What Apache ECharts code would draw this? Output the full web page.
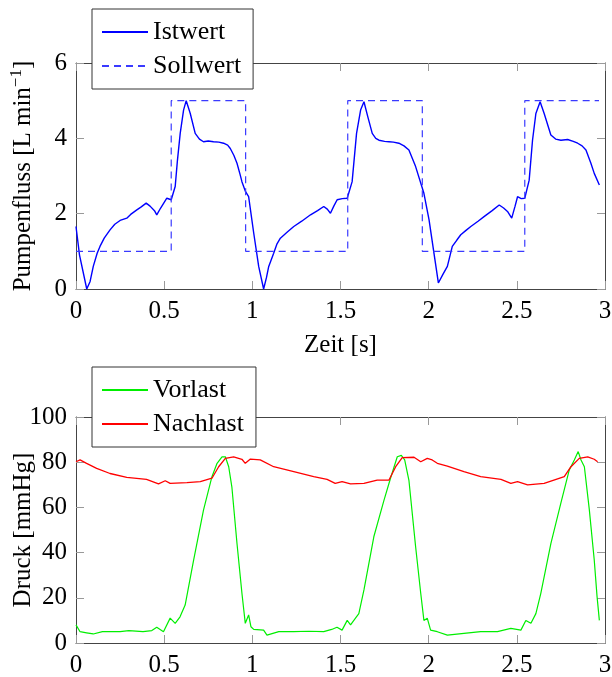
<!DOCTYPE html>
<html>
<head>
<meta charset="utf-8">
<script src="https://cdn.jsdelivr.net/npm/echarts@6/dist/echarts.min.js"></script>
<style>
html,body{margin:0;padding:0;background:#fff;}
#c{width:612px;height:677px;}
</style>
</head>
<body>
<div id="c"></div>
<script>
// ---- Data (time in s) ----
const xTicks = [0, 0.5, 1, 1.5, 2, 2.5, 3];
const flowTicks = [0, 2, 4, 6];
const pressureTicks = [0, 20, 40, 60, 80, 100];

const istTime = [0,0.02,0.061,0.08,0.098,0.12,0.136,0.16,0.193,0.22,0.25,0.288,0.31,0.345,0.37,0.398,0.42,0.445,0.458,0.48,0.515,0.54,0.5625,0.575,0.591,0.61,0.625,0.635,0.648,0.676,0.7,0.723,0.75,0.78,0.81,0.837,0.86,0.875,0.895,0.913,0.93,0.941,0.96,0.979,1.008,1.036,1.064,1.08,1.093,1.121,1.14,1.159,1.2,1.235,1.28,1.33,1.37,1.405,1.425,1.443,1.462,1.481,1.51,1.538,1.566,1.591,1.614,1.633,1.655,1.68,1.7,1.718,1.75,1.775,1.8,1.831,1.86,1.888,1.926,1.973,2.002,2.03,2.055,2.08,2.106,2.134,2.16,2.182,2.21,2.239,2.28,2.314,2.36,2.4,2.425,2.447,2.471,2.49,2.504,2.525,2.545,2.57,2.589,2.608,2.632,2.655,2.693,2.72,2.75,2.788,2.82,2.845,2.87,2.892,2.92,2.939,2.968];
const istValue = [1.66,0.9,0.0,0.2,0.6,0.95,1.13,1.35,1.57,1.72,1.82,1.88,1.98,2.1,2.18,2.28,2.2,2.08,1.97,2.15,2.41,2.37,2.72,3.4,4.13,4.75,5.0,4.85,4.66,4.13,3.98,3.91,3.93,3.91,3.9,3.87,3.82,3.73,3.55,3.34,3.05,2.85,2.6,2.45,1.48,0.6,0.0,0.3,0.6,0.95,1.2,1.35,1.52,1.66,1.8,1.97,2.08,2.19,2.12,2.01,2.2,2.37,2.4,2.41,2.85,4.13,4.75,4.97,4.57,4.13,4.0,3.95,3.92,3.91,3.9,3.87,3.8,3.69,3.25,2.54,1.84,0.95,0.16,0.38,0.6,1.13,1.3,1.44,1.55,1.66,1.8,1.92,2.08,2.23,2.15,2.06,1.88,2.2,2.45,2.4,2.41,2.89,3.95,4.66,4.97,4.66,4.09,3.98,3.95,3.97,3.92,3.87,3.8,3.69,3.34,3.07,2.76];

const sollTime = [0,0.54,0.54,0.962,0.962,1.541,1.541,1.964,1.964,2.545,2.545,2.966];
const sollValue = [1,1,5,5,1,1,5,5,1,1,5,5];

const vorTime = [0,0.023,0.06,0.098,0.15,0.19,0.25,0.3,0.38,0.43,0.458,0.496,0.534,0.5625,0.59,0.619,0.667,0.723,0.771,0.8,0.828,0.847,0.866,0.884,0.913,0.941,0.96,0.979,0.992,1.008,1.064,1.083,1.15,1.235,1.32,1.405,1.45,1.48,1.509,1.538,1.557,1.585,1.604,1.633,1.689,1.746,1.784,1.822,1.845,1.864,1.888,1.926,1.955,1.973,1.992,2.011,2.049,2.106,2.2,2.295,2.39,2.466,2.523,2.551,2.58,2.608,2.636,2.693,2.75,2.797,2.826,2.848,2.864,2.883,2.911,2.939,2.955,2.968];
const vorValue = [8,5,4.5,4,5,5,5,5.5,5,5.5,7,5,11,8.7,11.6,16.8,36.7,58.8,73.6,79.5,82.4,82.4,78,69,44,22,8.7,12.4,7.2,6,5.7,3.5,5,5,5.2,5,6,7,5.7,10,8,11,13,23.5,47,63,73,82.4,83,81,72,42.6,22,10,11,5.7,5,3.5,4.3,5,5,6.5,5.7,10,8.7,13,22,44,62,76.5,81,84.7,81,78,59,36.7,20.5,10];

const nachTime = [0,0.023,0.06,0.117,0.193,0.288,0.4,0.468,0.506,0.534,0.629,0.705,0.771,0.809,0.847,0.894,0.941,0.96,0.989,1.045,1.121,1.235,1.348,1.424,1.47,1.509,1.557,1.633,1.708,1.775,1.813,1.85,1.917,1.955,1.992,2.02,2.049,2.106,2.2,2.295,2.41,2.466,2.504,2.561,2.655,2.769,2.807,2.854,2.902,2.939,2.958];
const nachValue = [80.2,81,79.5,77.3,75,73.3,72.4,70.4,71.8,70.6,71,71.4,72.9,78,81.7,82.4,81.3,79.5,81.4,81,78,75.8,73.6,72.4,70.6,71.4,70.4,70.6,72.1,72.1,78,82,82.2,80.2,81.7,81,79.5,78.3,75.8,73.6,72.4,70.6,71.4,70,70.6,73.6,78,81.7,82.4,81.3,80.2];

const zip = (a, b) => a.map((v, i) => [v, b[i]]);

const FONT = 'Liberation Serif';
const frameColor = '#444';
const tickColor = '#999';

function xAx(gridIndex, position, showLabels) {
  return {
    type: 'value', gridIndex, position, min: xTicks[0], max: xTicks[xTicks.length - 1], interval: xTicks[1] - xTicks[0],
    axisLine: {show: true, onZero: false, lineStyle: {color: frameColor, width: 1}},
    axisTick: {show: true, inside: true, length: 8, lineStyle: {color: tickColor}},
    axisLabel: {show: showLabels, margin: 10, color: '#000', fontFamily: FONT, fontSize: 25},
    splitLine: {show: false}
  };
}
function yAx(gridIndex, position, showLabels, ticks) {
  return {
    type: 'value', gridIndex, position, min: ticks[0], max: ticks[ticks.length - 1], interval: ticks[1] - ticks[0],
    axisLine: {show: true, onZero: false, lineStyle: {color: frameColor, width: 1}},
    axisTick: {show: true, inside: true, length: 8, lineStyle: {color: tickColor}},
    axisLabel: {show: showLabels, margin: 9, color: '#000', fontFamily: FONT, fontSize: 25},
    splitLine: {show: false}
  };
}

const xAxes = [xAx(0, 'bottom', true), xAx(0, 'top', false), xAx(1, 'bottom', true), xAx(1, 'top', false)];
xAxes[0].name = 'Zeit [s]';
xAxes[0].nameLocation = 'middle';
xAxes[0].nameGap = 44;
xAxes[0].nameMoveOverlap = false;
xAxes[0].nameTextStyle = {color: '#000', fontFamily: FONT, fontSize: 25};

const yAxes = [
  yAx(0, 'left', true, flowTicks),
  yAx(0, 'right', false, flowTicks),
  yAx(1, 'left', true, pressureTicks),
  yAx(1, 'right', false, pressureTicks)
];
yAxes[0].name = '{n|Pumpenfluss [L min}{s|\u22121}{n|]}';
yAxes[0].nameLocation = 'middle';
yAxes[0].nameGap = 38;
yAxes[0].nameMoveOverlap = false;
yAxes[0].nameTextStyle = {color: '#000', fontFamily: FONT, fontSize: 25,
  rich: {n: {fontFamily: FONT, fontSize: 25, lineHeight: 30, color: '#000'},
         s: {fontFamily: FONT, fontSize: 17, verticalAlign: 'top', color: '#000'}}};
yAxes[2].name = 'Druck [mmHg]';
yAxes[2].nameLocation = 'middle';
yAxes[2].nameGap = 40;
yAxes[2].nameMoveOverlap = false;
yAxes[2].nameTextStyle = {color: '#000', fontFamily: FONT, fontSize: 25};

const legendCommon = {
  orient: 'vertical', backgroundColor: '#fff', borderColor: '#333', borderWidth: 1,
  padding: [10, 12, 10, 9], itemGap: 8, itemWidth: 46, itemHeight: 14, itemTextGap: 5, z: 10,
  itemStyle: {opacity: 0},
  textStyle: {color: '#000', fontFamily: FONT, fontSize: 26}
};

const chart = echarts.init(document.getElementById('c'), null, {renderer: 'canvas'});
chart.setOption({
  animation: false,
  backgroundColor: '#fff',
  grid: [
    {left: 76, top: 63, width: 529, height: 226, outerBoundsMode: 'none', containLabel: false},
    {left: 76, top: 417, width: 529, height: 226, outerBoundsMode: 'none', containLabel: false}
  ],
  legend: [
    Object.assign({}, legendCommon, {left: 92, top: 9, data: ['Istwert', 'Sollwert']}),
    Object.assign({}, legendCommon, {left: 92, top: 367, data: ['Vorlast', 'Nachlast']})
  ],
  xAxis: xAxes,
  yAxis: yAxes,
  series: [
    {name: 'Istwert', type: 'line', xAxisIndex: 0, yAxisIndex: 0, data: zip(istTime, istValue),
     symbol: 'none', lineStyle: {color: '#0000ff', width: 1.4}, itemStyle: {color: '#0000ff'}},
    {name: 'Sollwert', type: 'line', xAxisIndex: 0, yAxisIndex: 0, data: zip(sollTime, sollValue),
     symbol: 'none', lineStyle: {color: '#3a3aff', width: 1.2, type: [7, 5]}, itemStyle: {color: '#3a3aff'}},
    {name: 'Vorlast', type: 'line', xAxisIndex: 2, yAxisIndex: 2, data: zip(vorTime, vorValue),
     symbol: 'none', lineStyle: {color: '#00ee00', width: 1.2}, itemStyle: {color: '#00ee00'}},
    {name: 'Nachlast', type: 'line', xAxisIndex: 2, yAxisIndex: 2, data: zip(nachTime, nachValue),
     symbol: 'none', lineStyle: {color: '#ff0000', width: 1.3}, itemStyle: {color: '#ff0000'}}
  ]
});
</script>
</body>
</html>
